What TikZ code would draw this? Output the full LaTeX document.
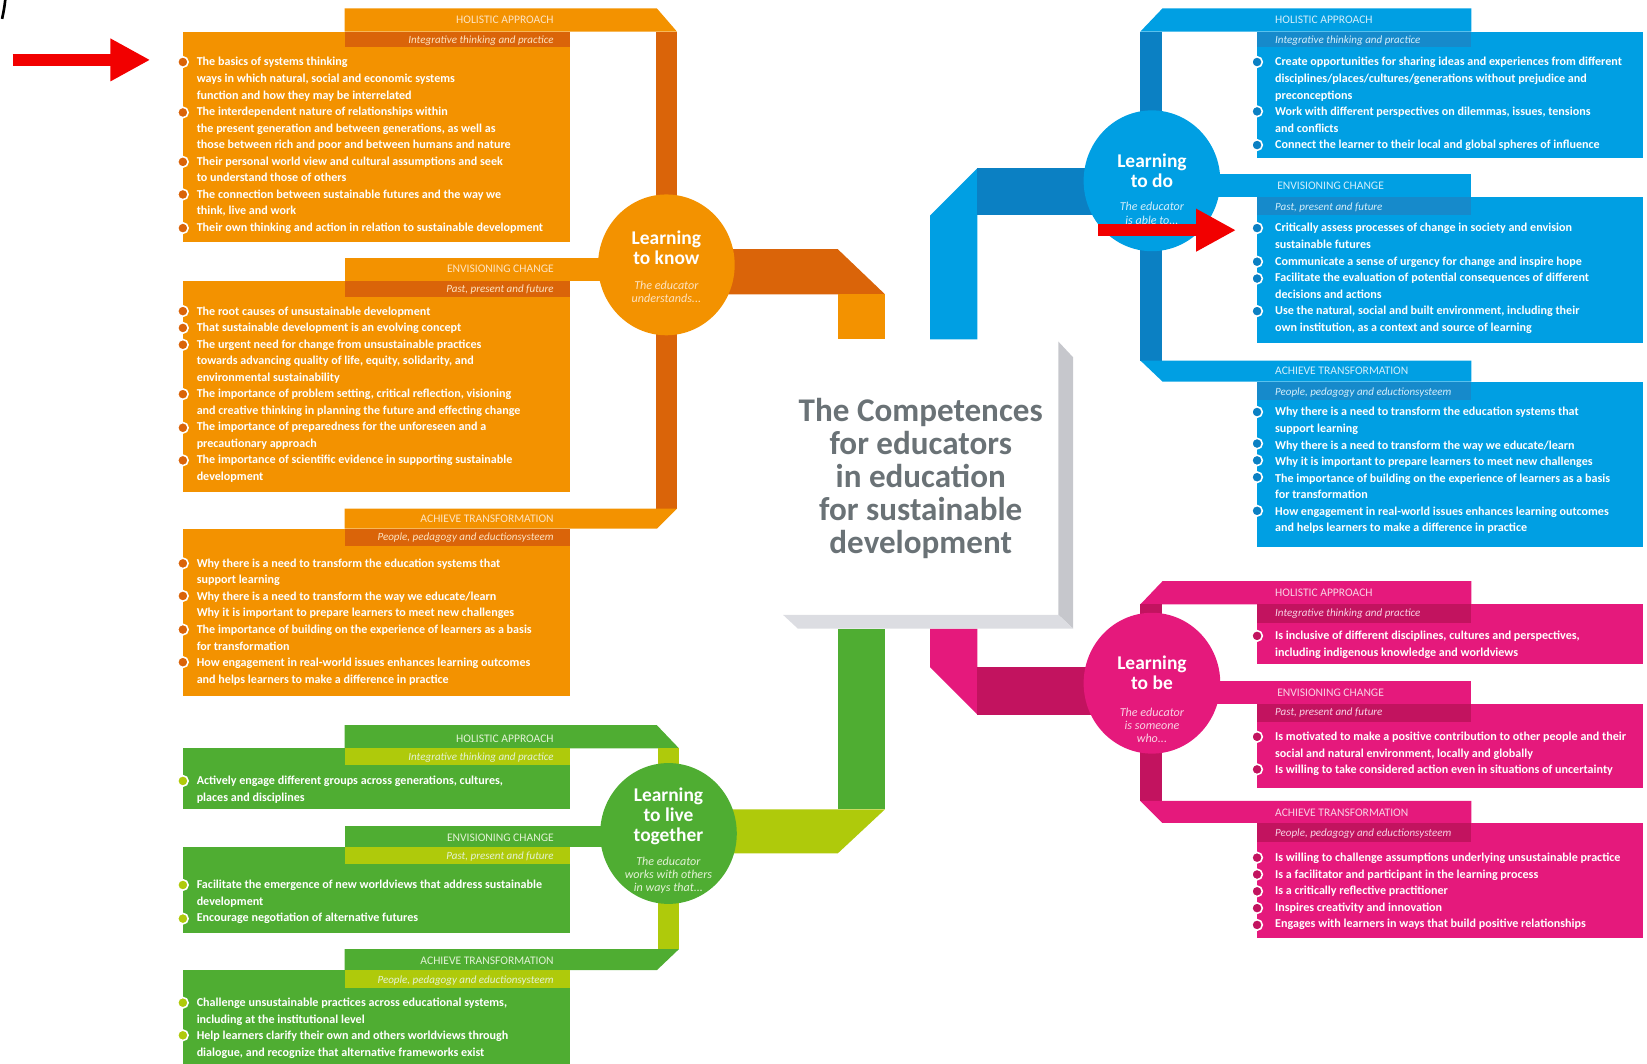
\documentclass[tikz,border=0pt]{standalone}
\usepackage{fontspec}
\setmainfont{Carlito}
\usepackage{xcolor}
\usepackage{tikz}
\usetikzlibrary{arrows.meta}

\definecolor{oMain}{HTML}{F39200}
\definecolor{oDark}{HTML}{DA6409}
\definecolor{oPale}{HTML}{FDE3C2}
\definecolor{bMain}{HTML}{009FE3}
\definecolor{bDark}{HTML}{0B80C3}
\definecolor{bStrip}{HTML}{168ACB}
\definecolor{bPale}{HTML}{D3EEFB}
\definecolor{pMain}{HTML}{E5197C}
\definecolor{pDark}{HTML}{C2135F}
\definecolor{pPale}{HTML}{F9D2E4}
\definecolor{gMain}{HTML}{4FAD32}
\definecolor{gLight}{HTML}{AFCA0B}
\definecolor{gPale}{HTML}{E3F2D6}
\definecolor{titleGrey}{HTML}{6A7276}
\definecolor{sideGrey}{HTML}{C6C7CC}
\definecolor{baseGrey}{HTML}{DCDDE2}
\definecolor{arrowRed}{HTML}{F20000}

\tikzset{
  body/.style={text=white, align=left, anchor=north west, yshift=11.025pt, inner sep=0pt, font=\fontsize{11.5}{15.75}\selectfont\bfseries},
  headR/.style={text=#1, anchor=base east, inner sep=0pt, font=\fontsize{11}{11}\selectfont},
  headL/.style={text=#1, anchor=base west, inner sep=0pt, font=\fontsize{11}{11}\selectfont},
  subR/.style={text=#1, anchor=base east, inner sep=0pt, font=\fontsize{10.5}{11}\selectfont\itshape},
  subL/.style={text=#1, anchor=base west, inner sep=0pt, font=\fontsize{10.5}{11}\selectfont\itshape},
  bul/.style={circle, fill=#1, draw=white, line width=1.5pt, minimum size=10pt, inner sep=0pt},
  hub/.style={ellipse, fill=#1, minimum width=130pt, minimum height=134pt, inner sep=0pt},
  hubtitle/.style={text=white, align=center, inner sep=0pt, font=\fontsize{18.5}{19}\selectfont\bfseries},
  hubnote/.style={text=#1, align=center, inner sep=0pt, font=\fontsize{11.5}{12.5}\selectfont\itshape},
  pointer/.style={arrowRed, line width=12pt, -{Triangle[length=38pt 0 0,width=38pt 0 0]}}
}
\usetikzlibrary{shapes.geometric}

\begin{document}
\begin{tikzpicture}[x=1pt, y=-1pt]
  \useasboundingbox (0,0) rectangle (1567,1011.4);
  \draw[line width=2.5pt] (5,0) .. controls (4,8) .. (2,18);

  % bands to the centre
  \fill[oDark] (680,237) -- (797,237) -- (842,280) -- (680,280) -- cycle;
  \fill[oMain] (797,280) rectangle (842,323);
  \fill[bMain] (885,323) -- (885,205) -- (930,160) -- (930,323) -- cycle;
  \fill[bDark] (930,160) rectangle (1096,205);
  \fill[gMain] (797,598) rectangle (842,770);
  \fill[gLight] (680,770) -- (842,770) -- (797,812) -- (680,812) -- cycle;
  \fill[pMain] (885,598) -- (930,598) -- (930,680) -- (885,635) -- cycle;
  \fill[pDark] (930,635) rectangle (1096,680);

  % centre box
  \fill[sideGrey] (1007,325) -- (1021,340) -- (1021,598) -- (1007,585) -- cycle;
  \fill[baseGrey] (745,585) -- (1007,585) -- (1021,598) -- (759,598) -- cycle;
  \node[align=center, text=titleGrey, inner sep=0pt, font=\fontsize{31.5}{31.5}\selectfont\bfseries] (title) at (876,455)
    {The Competences\\for educators\\in education\\for sustainable\\development};

  % learning to know
  \fill[oMain] (328,8) -- (625,8) -- (644,30) -- (328,30) -- cycle;
  \fill[oDark] (624,30) rectangle (644,484);
  \fill[oMain] (328,484) -- (644,484) -- (625,503) -- (328,503) -- cycle;
  \fill[oMain] (328,245) rectangle (634,267);
  \fill[oMain] (174,30) rectangle (542,230);
  \fill[oMain] (174,267) rectangle (542,468);
  \fill[oMain] (174,503) rectangle (542,662);
  \fill[oDark] (328,30) rectangle (542,45);
  \fill[oDark] (328,267) rectangle (542,283);
  \fill[oDark] (328,503) rectangle (542,519);
  \node[hub=oMain] (know) at (634,252) {};
  \node[hubtitle] (knowT) at (634,236) {Learning\\to know};
  \node[hubnote=oPale] (knowN) at (634,278) {The educator\\understands...};
  \node[headR=oPale] (koH1) at (527,22.5) {HOLISTIC APPROACH};
  \node[subR=oPale] (koS1) at (527,41.5) {Integrative thinking and practice};
  \node[headR=oPale] (koH2) at (527,259.5) {ENVISIONING CHANGE};
  \node[subR=oPale] (koS2) at (527,278.5) {Past, present and future};
  \node[headR=oPale] (koH3) at (527,497.5) {ACHIEVE TRANSFORMATION};
  \node[subR=oPale] (koS3) at (527,514.5) {People, pedagogy and eductionsysteem};
  \node[body] (koT1) at (187,62.5) {\strut The basics of systems thinking\\
    ways in which natural, social and economic systems\\
    function and how they may be interrelated\\
    The interdependent nature of relationships within\\
    the present generation and between generations, as well as\\
    those between rich and poor and between humans and nature\\
    Their personal world view and cultural assumptions and seek\\
    to understand those of others\\
    The connection between sustainable futures and the way we\\
    think, live and work\\
    Their own thinking and action in relation to sustainable development};
  \node[body] (koT2) at (187,299.5) {\strut The root causes of unsustainable development\\
    That sustainable development is an evolving concept\\
    The urgent need for change from unsustainable practices\\
    towards advancing quality of life, equity, solidarity, and\\
    environmental sustainability\\
    The importance of problem setting, critical reflection, visioning\\
    and creative thinking in planning the future and effecting change\\
    The importance of preparedness for the unforeseen and a\\
    precautionary approach\\
    The importance of scientific evidence in supporting sustainable\\
    development};
  \node[body] (koT3) at (187,539.5) {\strut Why there is a need to transform the education systems that\\
    support learning\\
    Why there is a need to transform the way we educate/learn\\
    Why it is important to prepare learners to meet new challenges\\
    The importance of building on the experience of learners as a basis\\
    for transformation\\
    How engagement in real-world issues enhances learning outcomes\\
    and helps learners to make a difference in practice};
  \node[bul=oDark] (ko1) at (174,59) {};
  \node[bul=oDark] (ko2) at (174,107) {};
  \node[bul=oDark] (ko3) at (174,154) {};
  \node[bul=oDark] (ko4) at (174,185) {};
  \node[bul=oDark] (ko5) at (174,217) {};
  \node[bul=oDark] (ko6) at (174,296) {};
  \node[bul=oDark] (ko7) at (174,312) {};
  \node[bul=oDark] (ko8) at (174,328) {};
  \node[bul=oDark] (ko9) at (174,375) {};
  \node[bul=oDark] (ko10) at (174,407) {};
  \node[bul=oDark] (ko11) at (174,438) {};
  \node[bul=oDark] (ko12) at (174,536) {};
  \node[bul=oDark] (ko13) at (174,567) {};
  \node[bul=oDark] (ko14) at (174,599) {};
  \node[bul=oDark] (ko15) at (174,630) {};

  % learning to live together
  \fill[gMain] (328,690) -- (625,690) -- (646,712) -- (328,712) -- cycle;
  \fill[gLight] (626,712) rectangle (646,903);
  \fill[gMain] (328,903) -- (646,903) -- (625,923) -- (328,923) -- cycle;
  \fill[gMain] (328,786) rectangle (636,806);
  \fill[gMain] (174,712) rectangle (542,770);
  \fill[gMain] (174,806) rectangle (542,888);
  \fill[gMain] (174,923) rectangle (542,1012);
  \fill[gLight] (328,712) rectangle (542,728);
  \fill[gLight] (328,806) rectangle (542,822);
  \fill[gLight] (328,923) rectangle (542,940);
  \node[hub=gMain] (together) at (636,793) {};
  \node[hubtitle] (togetherT) at (636,777) {Learning\\to live\\together};
  \node[hubnote=gPale] (togetherN) at (636,833) {The educator\\works with others\\in ways that...};
  \node[headR=gPale] (tgH1) at (527,706.5) {HOLISTIC APPROACH};
  \node[subR=gPale] (tgS1) at (527,723.5) {Integrative thinking and practice};
  \node[headR=gPale] (tgH2) at (527,800.5) {ENVISIONING CHANGE};
  \node[subR=gPale] (tgS2) at (527,817.5) {Past, present and future};
  \node[headR=gPale] (tgH3) at (527,917.5) {ACHIEVE TRANSFORMATION};
  \node[subR=gPale] (tgS3) at (527,935.5) {People, pedagogy and eductionsysteem};
  \node[body] (tgT1) at (187,746.5) {\strut Actively engage different groups across generations, cultures,\\
    places and disciplines};
  \node[body] (tgT2) at (187,845.5) {\strut Facilitate the emergence of new worldviews that address sustainable\\
    development\\
    Encourage negotiation of alternative futures};
  \node[body] (tgT3) at (187,957.5) {\strut Challenge unsustainable practices across educational systems,\\
    including at the institutional level\\
    Help learners clarify their own and others worldviews through\\
    dialogue, and recognize that alternative frameworks exist};
  \node[bul=gLight] (tg1) at (174,743) {};
  \node[bul=gLight] (tg2) at (174,842) {};
  \node[bul=gLight] (tg3) at (174,874) {};
  \node[bul=gLight] (tg4) at (174,954) {};
  \node[bul=gLight] (tg5) at (174,985) {};

  % learning to do
  \fill[bMain] (1085,30) -- (1106,8) -- (1400,8) -- (1400,30) -- cycle;
  \fill[bDark] (1085,30) rectangle (1106,343);
  \fill[bMain] (1085,343) -- (1400,343) -- (1400,363) -- (1106,363) -- cycle;
  \fill[bMain] (1096,166) rectangle (1400,187);
  \fill[bMain] (1196,30) rectangle (1563,150);
  \fill[bMain] (1196,187) rectangle (1563,326);
  \fill[bMain] (1196,363) rectangle (1563,520);
  \fill[bStrip] (1196,30) rectangle (1400,45);
  \fill[bStrip] (1196,187) rectangle (1400,205);
  \fill[bStrip] (1196,363) rectangle (1400,381);
  \node[hub=bMain] (do) at (1096,172) {};
  \node[hubtitle] (doT) at (1096,162) {Learning\\to do};
  \node[hubnote=bPale] (doN) at (1096,203) {The educator\\is able to...};
  \node[headL=bPale] (dH1) at (1213,22.5) {HOLISTIC APPROACH};
  \node[subL=bPale] (dS1) at (1213,41.5) {Integrative thinking and practice};
  \node[headL=bPale] (dH2) at (1215,180.5) {ENVISIONING CHANGE};
  \node[subL=bPale] (dS2) at (1213,200.5) {Past, present and future};
  \node[headL=bPale] (dH3) at (1213,356.5) {ACHIEVE TRANSFORMATION};
  \node[subL=bPale] (dS3) at (1213,376.5) {People, pedagogy and eductionsysteem};
  \node[body] (dT1) at (1213,62.5) {\strut Create opportunities for sharing ideas and experiences from different\\
    disciplines/places/cultures/generations without prejudice and\\
    preconceptions\\
    Work with different perspectives on dilemmas, issues, tensions\\
    and conflicts\\
    Connect the learner to their local and global spheres of influence};
  \node[body] (dT2) at (1213,220.5) {\strut Critically assess processes of change in society and envision\\
    sustainable futures\\
    Communicate a sense of urgency for change and inspire hope\\
    Facilitate the evaluation of potential consequences of different\\
    decisions and actions\\
    Use the natural, social and built environment, including their\\
    own institution, as a context and source of learning};
  \node[body] (dT3) at (1213,395.5) {\strut Why there is a need to transform the education systems that\\
    support learning\\
    Why there is a need to transform the way we educate/learn\\
    Why it is important to prepare learners to meet new challenges\\
    The importance of building on the experience of learners as a basis\\
    for transformation\\
    How engagement in real-world issues enhances learning outcomes\\
    and helps learners to make a difference in practice};
  \node[bul=bDark] (d1) at (1196,59) {};
  \node[bul=bDark] (d2) at (1196,106) {};
  \node[bul=bDark] (d3) at (1196,138) {};
  \node[bul=bDark] (d4) at (1196,217) {};
  \node[bul=bDark] (d5) at (1196,249) {};
  \node[bul=bDark] (d6) at (1196,265) {};
  \node[bul=bDark] (d7) at (1196,296) {};
  \node[bul=bDark] (d8) at (1196,392) {};
  \node[bul=bDark] (d9) at (1196,422) {};
  \node[bul=bDark] (d10) at (1196,438) {};
  \node[bul=bDark] (d11) at (1196,454) {};
  \node[bul=bDark] (d12) at (1196,486) {};

  % learning to be
  \fill[pMain] (1085,575) -- (1106,553) -- (1400,553) -- (1400,575) -- cycle;
  \fill[pDark] (1085,575) rectangle (1106,762);
  \fill[pMain] (1085,762) -- (1400,762) -- (1400,783) -- (1106,783) -- cycle;
  \fill[pMain] (1096,648) rectangle (1400,670);
  \fill[pMain] (1196,575) rectangle (1563,632);
  \fill[pMain] (1196,670) rectangle (1563,750);
  \fill[pMain] (1196,783) rectangle (1563,892);
  \fill[pDark] (1196,575) rectangle (1400,593);
  \fill[pDark] (1196,670) rectangle (1400,687);
  \fill[pDark] (1196,783) rectangle (1400,801);
  \node[hub=pMain] (be) at (1096,650) {};
  \node[hubtitle] (beT) at (1096,640) {Learning\\to be};
  \node[hubnote=pPale] (beN) at (1096,690) {The educator\\is someone\\who...};
  \node[headL=pPale] (bH1) at (1213,567.5) {HOLISTIC APPROACH};
  \node[subL=pPale] (bS1) at (1213,586.5) {Integrative thinking and practice};
  \node[headL=pPale] (bH2) at (1215,662.5) {ENVISIONING CHANGE};
  \node[subL=pPale] (bS2) at (1213,680.5) {Past, present and future};
  \node[headL=pPale] (bH3) at (1213,776.5) {ACHIEVE TRANSFORMATION};
  \node[subL=pPale] (bS3) at (1213,795.5) {People, pedagogy and eductionsysteem};
  \node[body] (bT1) at (1213,608.5) {\strut Is inclusive of different disciplines, cultures and perspectives,\\
    including indigenous knowledge and worldviews};
  \node[body] (bT2) at (1213,704.5) {\strut Is motivated to make a positive contribution to other people and their\\
    social and natural environment, locally and globally\\
    Is willing to take considered action even in situations of uncertainty};
  \node[body] (bT3) at (1213,819.5) {\strut Is willing to challenge assumptions underlying unsustainable practice\\
    Is a facilitator and participant in the learning process\\
    Is a critically reflective practitioner\\
    Inspires creativity and innovation\\
    Engages with learners in ways that build positive relationships};
  \node[bul=pDark] (b1) at (1196,605) {};
  \node[bul=pDark] (b2) at (1196,701) {};
  \node[bul=pDark] (b3) at (1196,732) {};
  \node[bul=pDark] (b4) at (1196,816) {};
  \node[bul=pDark] (b5) at (1196,832) {};
  \node[bul=pDark] (b6) at (1196,848) {};
  \node[bul=pDark] (b7) at (1196,864) {};
  \node[bul=pDark] (b8) at (1196,880) {};

  % red pointers
  \coordinate (pA) at (12,57);
  \coordinate (pB) at (143,57);
  \coordinate (pC) at (1045,219);
  \coordinate (pD) at (1176,219);
  \draw[pointer] (pA) -- (pB);
  \draw[pointer] (pC) -- (pD);
\end{tikzpicture}
\end{document}
